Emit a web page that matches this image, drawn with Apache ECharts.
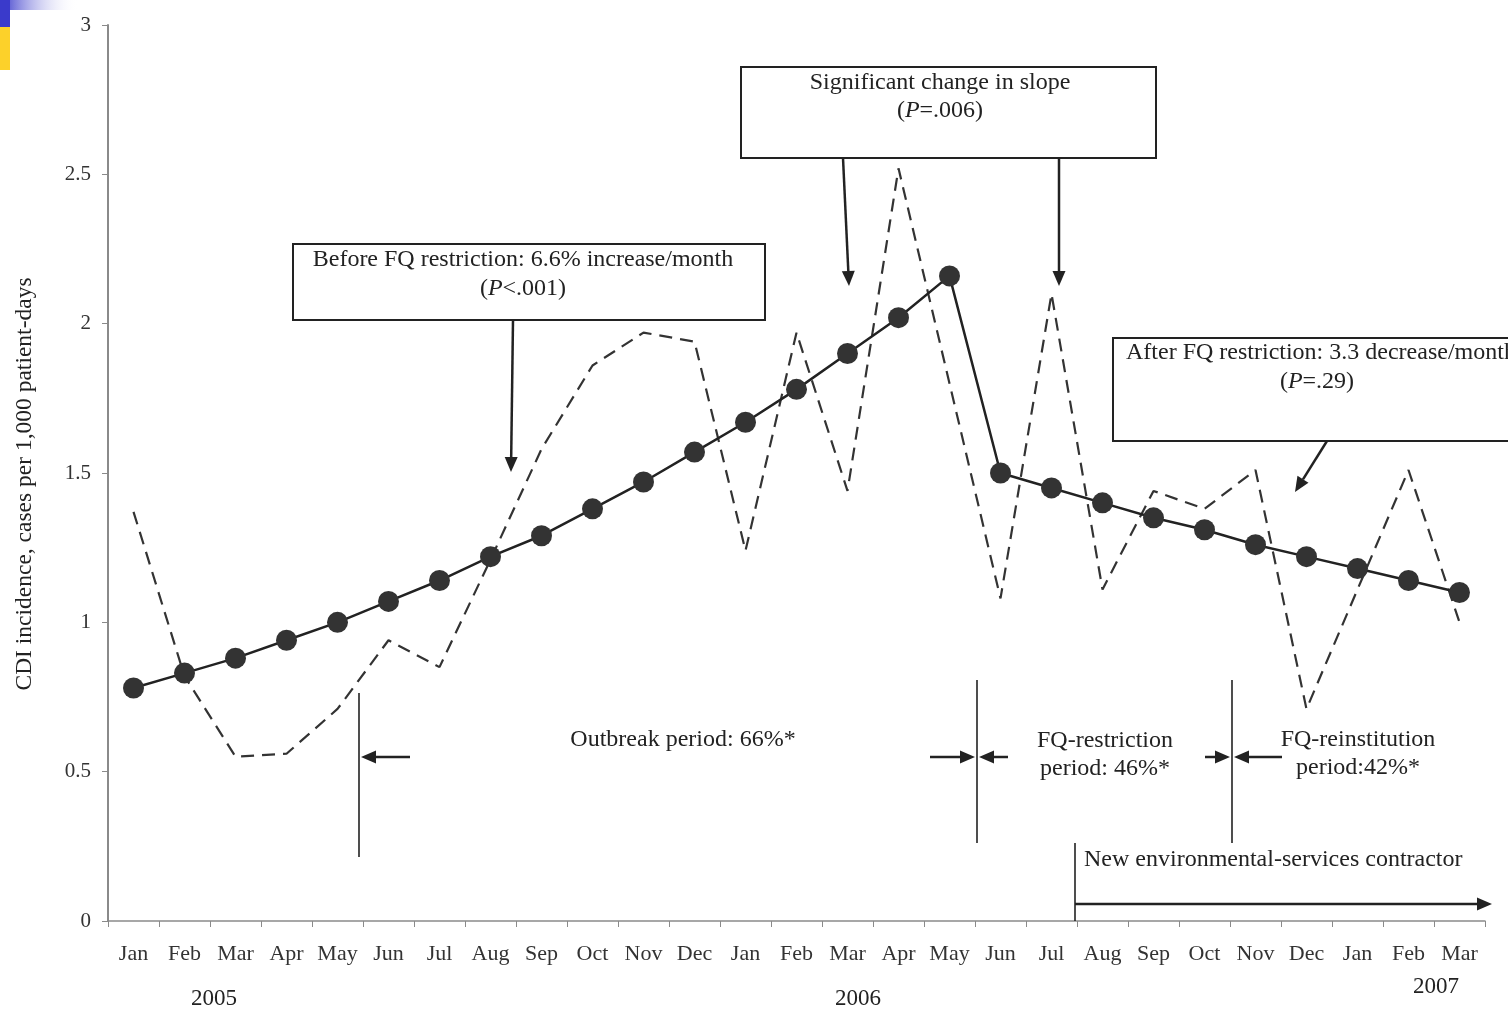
<!DOCTYPE html>
<html>
<head>
<meta charset="utf-8">
<title>CDI incidence 2005–2007</title>
<script src="https://cdn.jsdelivr.net/npm/echarts@6/dist/echarts.min.js"></script>
<style>
  html, body { margin: 0; padding: 0; background: #fff; }
  #chart { width: 1508px; height: 1011px; }
</style>
</head>
<body>
<div id="chart"></div>
<script>
// Months Jan 2005 – Mar 2007
const months = ['Jan','Feb','Mar','Apr','May','Jun','Jul','Aug','Sep','Oct','Nov','Dec',
                'Jan','Feb','Mar','Apr','May','Jun','Jul','Aug','Sep','Oct','Nov','Dec',
                'Jan','Feb','Mar'];

// Observed monthly CDI incidence (dashed line)
const observed = [1.37, 0.82, 0.55, 0.56, 0.71, 0.94, 0.85, 1.21, 1.58, 1.86, 1.97, 1.94,
                  1.24, 1.97, 1.44, 2.52, 1.80, 1.08, 2.10, 1.11, 1.44, 1.38, 1.51, 0.71,
                  1.11, 1.51, 1.00];

// Segmented regression fit (solid line with markers)
const fitted = [0.78, 0.83, 0.88, 0.94, 1.00, 1.07, 1.14, 1.22, 1.29, 1.38, 1.47, 1.57,
                1.67, 1.78, 1.90, 2.02, 2.16, 1.50, 1.45, 1.40, 1.35, 1.31, 1.26, 1.22,
                1.18, 1.14, 1.10];

const yTicks = [0, 0.5, 1, 1.5, 2, 2.5, 3];

const FONT = '"Liberation Serif", "Times New Roman", serif';
const INK = '#222';
const TS = 24; // annotation text size

const chart = echarts.init(document.getElementById('chart'), null, { renderer: 'canvas' });

function arrow(x1, y1, x2, y2) {
  const ang = Math.atan2(y2 - y1, x2 - x1);
  const L = 15, W = 6.5;
  const bx = x2 - L * Math.cos(ang), by = y2 - L * Math.sin(ang);
  const px = -Math.sin(ang), py = Math.cos(ang);
  return [
    { type: 'line', shape: { x1: x1, y1: y1, x2: bx, y2: by },
      style: { stroke: INK, lineWidth: 2.5 }, z: 50 },
    { type: 'polygon', shape: { points: [[x2, y2], [bx + px * W, by + py * W], [bx - px * W, by - py * W]] },
      style: { fill: INK }, z: 50 }
  ];
}

function vline(x, y1, y2) {
  return { type: 'line', shape: { x1: x, y1: y1, x2: x, y2: y2 },
           style: { stroke: INK, lineWidth: 1.6 }, z: 50 };
}

function txt(x, y, text, align, size) {
  return { type: 'text', x: x, y: y, z: 60,
           style: { text: text, font: (size || TS) + 'px ' + FONT, fill: INK,
                    align: align || 'center', verticalAlign: 'middle' } };
}

function richTxt(x, y, parts) {
  return { type: 'text', x: x, y: y, z: 60,
           style: { text: parts, align: 'center', verticalAlign: 'middle',
                    font: TS + 'px ' + FONT, fill: INK,
                    rich: { i: { fontStyle: 'italic', fontFamily: FONT, fontSize: TS, fill: INK } } } };
}

function box(x, y, w, h) {
  return { type: 'rect', shape: { x: x, y: y, width: w, height: h },
           style: { fill: '#fff', stroke: INK, lineWidth: 2 }, z: 40 };
}

const graphics = [
  // slide corner decoration
  { type: 'rect', shape: { x: 0, y: 0, width: 78, height: 10 },
    style: { fill: new echarts.graphic.LinearGradient(0, 0, 1, 0, [
      { offset: 0, color: '#3a3acb' }, { offset: 1, color: 'rgba(255,255,255,0)' }]) }, z: 70 },
  { type: 'rect', shape: { x: 0, y: 0, width: 10, height: 27 }, style: { fill: '#3a3acb' }, z: 70 },
  { type: 'rect', shape: { x: 0, y: 27, width: 10, height: 43 }, style: { fill: '#fcd12a' }, z: 70 },

  // axis title
  { type: 'text', x: 25, y: 484, rotation: Math.PI / 2, z: 60,
    style: { text: 'CDI incidence, cases per 1,000 patient-days', font: '23.5px ' + FONT,
             fill: INK, align: 'center', verticalAlign: 'middle' } },

  // year labels
  txt(214, 999, '2005', 'center', 23),
  txt(858, 999, '2006', 'center', 23),
  txt(1436, 987, '2007', 'center', 23),

  // before FQ restriction
  box(293, 244, 472, 76),
  txt(523, 260, 'Before FQ restriction: 6.6% increase/month'),
  richTxt(523, 289, '({i|P}<.001)'),
  ...arrow(513, 320, 511, 472),

  // change in slope
  box(741, 67, 415, 91),
  txt(940, 83, 'Significant change in slope'),
  richTxt(940, 111, '({i|P}=.006)'),
  ...arrow(843, 158, 849, 286),
  ...arrow(1059, 158, 1059, 286),

  // after FQ restriction
  box(1113, 338, 420, 103),
  txt(1126, 353, 'After FQ restriction: 3.3 decrease/month', 'left'),
  richTxt(1317, 382, '({i|P}=.29)'),
  ...arrow(1327, 441, 1295, 492),

  // period markers
  vline(359, 693, 857),
  ...arrow(410, 757, 361, 757),
  txt(683, 740, 'Outbreak period: 66%*'),

  vline(977, 680, 843),
  ...arrow(930, 757, 975, 757),
  ...arrow(1008, 757, 979, 757),
  txt(1105, 741, 'FQ-restriction'),
  txt(1105, 769, 'period: 46%*'),

  vline(1232, 680, 843),
  ...arrow(1205, 757, 1230, 757),
  ...arrow(1282, 757, 1234, 757),
  txt(1358, 740, 'FQ-reinstitution'),
  txt(1358, 768, 'period:42%*'),

  vline(1075, 843, 921),
  txt(1084, 860, 'New environmental-services contractor', 'left'),
  ...arrow(1075, 904, 1492, 904)
];

chart.setOption({
  animation: false,
  backgroundColor: '#fff',
  grid: { left: 108, right: 23, top: 25, bottom: 90, containLabel: false },
  xAxis: {
    type: 'category',
    data: months,
    boundaryGap: true,
    axisLine: { lineStyle: { color: '#8a8a8a', width: 1.5 } },
    axisTick: { show: true, length: 6, inside: false, interval: 0, lineStyle: { color: '#8a8a8a' } },
    axisLabel: { interval: 0, margin: 22, fontFamily: FONT, fontSize: 22, color: '#333' },
    splitLine: { show: false }
  },
  yAxis: {
    type: 'value',
    min: yTicks[0],
    max: yTicks[yTicks.length - 1],
    interval: 0.5,
    axisLine: { show: true, lineStyle: { color: '#8a8a8a', width: 2 } },
    axisTick: { show: true, length: 6, lineStyle: { color: '#8a8a8a' } },
    axisLabel: { margin: 17, fontFamily: FONT, fontSize: 21, color: '#333',
                 formatter: v => String(v) },
    splitLine: { show: false }
  },
  series: [
    {
      name: 'Observed',
      type: 'line',
      data: observed,
      showSymbol: false,
      symbol: 'none',
      lineStyle: { color: '#333', width: 2.2, type: [13, 8] },
      z: 2
    },
    {
      name: 'Fitted',
      type: 'line',
      data: fitted,
      symbol: 'circle',
      symbolSize: 21,
      itemStyle: { color: '#333' },
      lineStyle: { color: '#222', width: 2.5 },
      z: 3
    }
  ],
  graphic: graphics
});
</script>
</body>
</html>
